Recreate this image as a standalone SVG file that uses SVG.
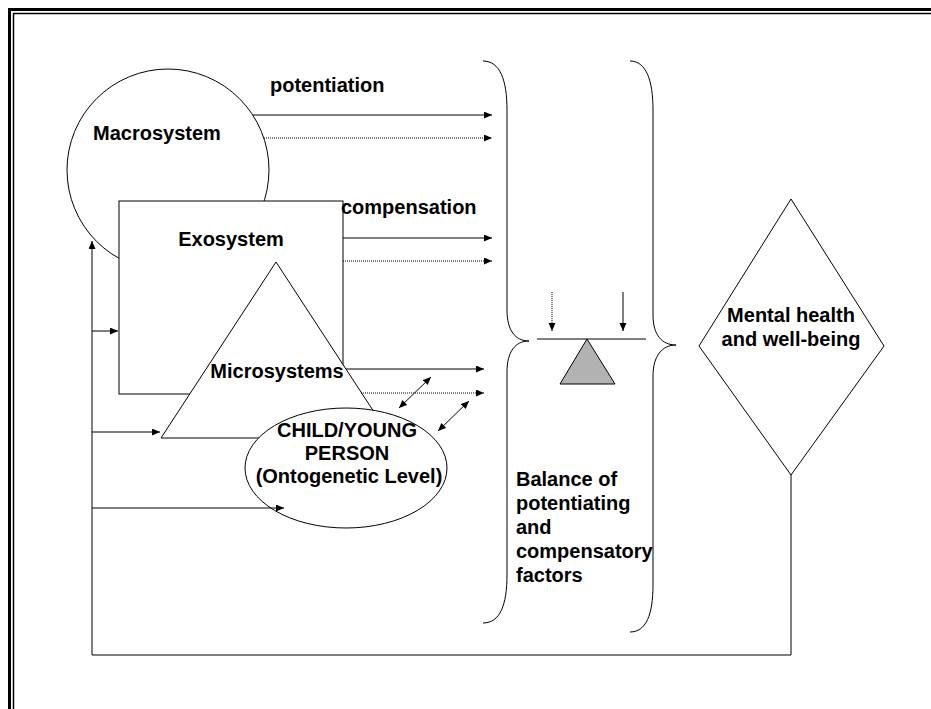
<svg xmlns="http://www.w3.org/2000/svg" width="931" height="709" viewBox="0 0 931 709">
<style>
.shape{fill:#fff;stroke:#000;stroke-width:1}
.ln{fill:none;stroke:#000;stroke-width:1}
.dot{fill:none;stroke:#000;stroke-width:1;stroke-dasharray:1 1}
.t{font-family:"Liberation Sans",Arial,sans-serif;font-weight:bold;font-size:20px;fill:#000}
.c{text-anchor:middle}
</style>
<defs>
<marker id="ah" markerUnits="userSpaceOnUse" markerWidth="9" markerHeight="8" refX="8" refY="3.5" orient="auto-start-reverse">
<path d="M0,0 L8,3.5 L0,7 z" fill="#000"/>
</marker>
</defs>
<g id="border">
<path d="M9.5,709 V9.5 H931" fill="none" stroke="#000" stroke-width="3"/>
<path d="M13.5,709 V13.5 H931" fill="none" stroke="#000" stroke-width="1.5"/>
</g>
<g id="macrosystem">
<circle class="shape" cx="168" cy="170" r="101"/>
<text class="t" x="93" y="140">Macrosystem</text>
</g>
<g id="exosystem">
<rect class="shape" x="119" y="201" width="224" height="193"/>
<text class="t c" x="231" y="246">Exosystem</text>
</g>
<g id="microsystems">
<polygon class="shape" points="276,262 391,438 161,438"/>
<text class="t c" x="277" y="378">Microsystems</text>
</g>
<g id="child">
<ellipse class="shape" cx="346" cy="468" rx="101" ry="60"/>
<text class="t c" x="347" y="437">CHILD/YOUNG</text>
<text class="t c" x="347" y="460">PERSON</text>
<text class="t c" x="349" y="483">(Ontogenetic Level)</text>
</g>
<g id="labels">
<text class="t" x="270" y="92">potentiation</text>
<text class="t" x="341" y="214">compensation</text>
</g>
<g id="connectors">
<polyline class="ln" points="791,475 791,655 92,655 92,241" marker-end="url(#ah)"/>
<line class="ln" x1="92" y1="331" x2="118" y2="331" marker-end="url(#ah)"/>
<line class="ln" x1="92" y1="432" x2="160" y2="432" marker-end="url(#ah)"/>
<line class="ln" x1="92" y1="508" x2="284" y2="508" marker-end="url(#ah)"/>
<line class="ln" x1="253" y1="115" x2="492" y2="115" marker-end="url(#ah)"/>
<line class="dot" x1="264" y1="138" x2="492" y2="138" marker-end="url(#ah)"/>
<line class="ln" x1="343" y1="238" x2="492" y2="238" marker-end="url(#ah)"/>
<line class="dot" x1="343" y1="261" x2="492" y2="261" marker-end="url(#ah)"/>
<line class="ln" x1="346" y1="369" x2="484" y2="369" marker-end="url(#ah)"/>
<line class="dot" x1="361" y1="393" x2="484" y2="393" marker-end="url(#ah)"/>
<line class="ln" x1="399" y1="408" x2="431" y2="377" marker-start="url(#ah)" marker-end="url(#ah)"/>
<line class="ln" x1="438" y1="431" x2="469" y2="401" marker-start="url(#ah)" marker-end="url(#ah)"/>
</g>
<g id="balance">
<path class="ln" d="M483,61 C500,61 507,80 507,110 L507,310 C507,330 515,341 529,341 C515,341 507,352 507,372 L507,575 C507,605 500,623 483,623"/>
<path class="ln" d="M630,61 C646,61 653,80 653,110 L653,315 C653,335 662,345 676,345 C662,345 653,356 653,376 L653,585 C653,615 646,632 630,632"/>
<line class="ln" x1="537" y1="339" x2="646" y2="339"/>
<polygon points="587,339 615,384 560,384" fill="#b2b2b2" stroke="#000" stroke-width="1"/>
<line class="dot" x1="552" y1="292" x2="552" y2="331" marker-end="url(#ah)"/>
<line class="ln" x1="623" y1="292" x2="623" y2="331" marker-end="url(#ah)"/>
<text class="t" x="516" y="486">Balance of</text>
<text class="t" x="516" y="510">potentiating</text>
<text class="t" x="516" y="534">and</text>
<text class="t" x="516" y="558">compensatory</text>
<text class="t" x="516" y="582">factors</text>
</g>
<g id="mental-health">
<polygon class="shape" points="791,199 884,346 791,475 699,346"/>
<text class="t c" x="791" y="322">Mental health</text>
<text class="t c" x="791" y="346">and well-being</text>
</g>
</svg>
